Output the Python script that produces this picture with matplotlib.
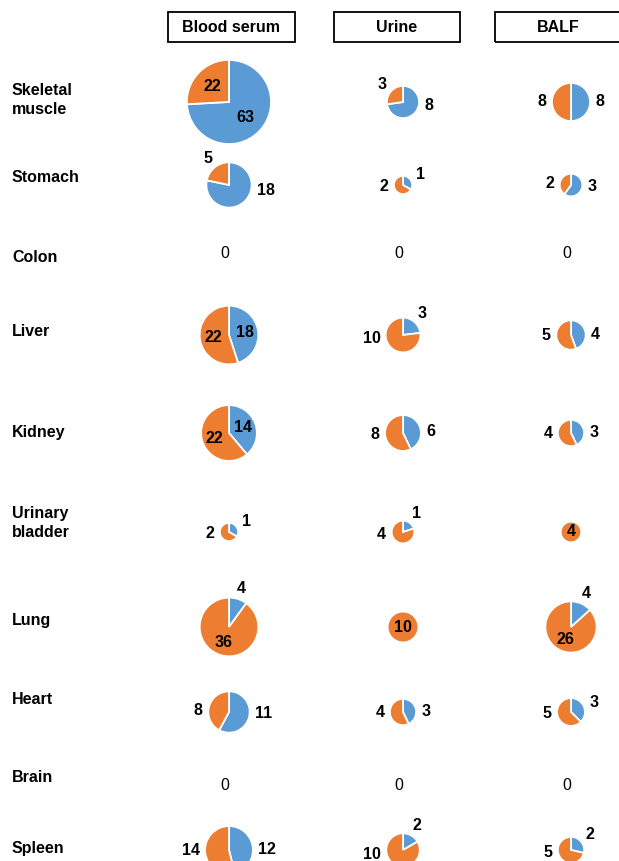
import numpy as np
import matplotlib
matplotlib.use("Agg")
import matplotlib.pyplot as plt

# ========================================
# DATA
# ========================================
organs = ["Skeletal\nmuscle", "Stomach", "Colon", "Liver", "Kidney",
          "Urinary\nbladder", "Lung", "Heart", "Brain", "Spleen"]
samples = ["Blood serum", "Urine", "BALF"]

# first wedge = blue, second wedge = orange (clockwise from 12 o'clock)
serum_blue = [63, 18, 0, 18, 14, 1, 4, 11, 0, 12]
serum_orange = [22, 5, 0, 22, 22, 2, 36, 8, 0, 14]
urine_blue = [8, 1, 0, 3, 6, 1, 0, 3, 0, 2]
urine_orange = [3, 2, 0, 10, 8, 4, 10, 4, 0, 10]
balf_blue = [8, 3, 0, 4, 3, 0, 4, 3, 0, 2]
balf_orange = [8, 2, 0, 5, 4, 4, 26, 5, 0, 5]

blue_cols = [serum_blue, urine_blue, balf_blue]
orange_cols = [serum_orange, urine_orange, balf_orange]

# ========================================
# LAYOUT / STYLE
# ========================================
W, H = 619, 861
BLUE = "#5B9BD5"
ORANGE = "#ED7D31"
FONT = "Liberation Sans"
FS = 11.5

col_x = [229, 403, 571]                 # pie column centres (px)
box_x = [(168, 295), (334, 460), (495, 622)]
row_y = [102, 185, 253, 335, 433, 532, 627, 712, 786, 850]   # pie rows (px from top)
label_y = [100, 177, 257, 331, 432, 523, 621, 700, 778, 848]

# slices pulled out of the pie: (row, col) -> (blue, orange)
explode_map = {(0, 0): (0, 0.13), (1, 0): (0, 0.15), (6, 0): (0.12, 0)}


def radius(total):
    return 4.4 * np.sqrt(total) + 1.5


fig = plt.figure(figsize=(W / 100, H / 100), dpi=100)
ax = fig.add_axes([0, 0, 1, 1])

# header boxes
for (x0, x1), name in zip(box_x, samples):
    ax.add_patch(plt.Rectangle((x0, H - 42), x1 - x0, 30, fill=False,
                               edgecolor="black", linewidth=1.3))
    ax.text((x0 + x1) / 2, H - 27, name, ha="center", va="center",
            fontsize=FS, fontweight="bold", family=FONT)

# row labels
for name, y in zip(organs, label_y):
    ax.text(12, H - y, name, ha="left", va="center", fontsize=FS,
            fontweight="bold", family=FONT, linespacing=1.35)

# ========================================
# PIES
# ========================================
for c in range(3):
    for r in range(len(organs)):
        b = blue_cols[c][r]
        o = orange_cols[c][r]
        cx, cy = col_x[c], H - row_y[r]
        total = b + o
        if total == 0:
            ax.text(cx - 4, cy, "0", ha="center", va="center",
                    fontsize=FS, family=FONT)
            continue

        rad = radius(total)
        ex = explode_map.get((r, c), (0, 0))
        vals, cols, exps = [], [], []
        for v, col, e in zip([b, o], [BLUE, ORANGE], ex):
            if v > 0:
                vals.append(v)
                cols.append(col)
                exps.append(e)

        ax.pie(vals, colors=cols, explode=exps, startangle=90, counterclock=False,
               center=(cx, cy), radius=rad,
               wedgeprops=dict(edgecolor="white", linewidth=1.3))

        # value labels
        start = 90.0
        for v in vals:
            frac = v / total
            span = 360 * frac
            mid = np.radians(start - span / 2)
            start -= span
            txt = str(v)
            tw = 8 * len(txt)
            if frac == 1:
                tx, ty = cx, cy
            elif total >= 30 and frac >= 0.25:
                tx = cx + 0.55 * rad * np.cos(mid)
                ty = cy + 0.55 * rad * np.sin(mid)
            elif frac < 0.4:
                d = rad + 9 + tw / 4
                tx = cx + d * np.cos(mid)
                ty = cy + d * np.sin(mid)
            else:
                tx = cx + np.sign(np.cos(mid)) * (rad + 6 + tw / 2)
                ty = cy + 0.3 * rad * np.sin(mid)
            ax.text(tx, ty, txt, ha="center", va="center", fontsize=FS,
                    fontweight="bold", family=FONT)

ax.set_xlim(0, W)
ax.set_ylim(0, H)
ax.set_aspect("equal")
ax.set_axis_off()

fig.savefig("out.png", dpi=100, facecolor="white")
